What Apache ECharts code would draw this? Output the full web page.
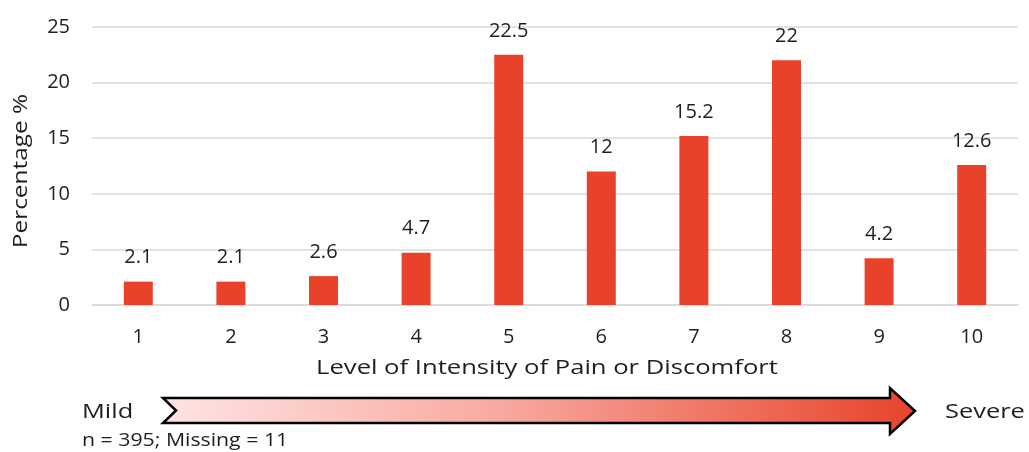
<!DOCTYPE html>
<html>
<head>
<meta charset="utf-8">
<script src="https://cdn.jsdelivr.net/npm/echarts@6/dist/echarts.min.js"></script>
<style>
  html, body { margin: 0; padding: 0; background: #fff; }
  #chart { width: 1029px; height: 452px; }
</style>
</head>
<body>
<div id="chart"></div>
<script>
// Pain / discomfort intensity distribution
const levels = ['1', '2', '3', '4', '5', '6', '7', '8', '9', '10'];
const percentages = [2.1, 2.1, 2.6, 4.7, 22.5, 12, 15.2, 22, 4.2, 12.6];
const yTicks = { min: 0, max: 25, interval: 5 };

const FONT = '"Open Sans", sans-serif';
const TEXT = '#1e1e1e';
const BAR = '#E8432A';
// widen the titles a little so they read like a broad geometric face
const WIDE = 1.22;

const chart = echarts.init(document.getElementById('chart'), null, { renderer: 'canvas' });

function caption(text, x, y, size, align, opts) {
  return Object.assign({
    type: 'text',
    x: x,
    y: y,
    scaleX: WIDE,
    style: {
      text: text,
      font: size + 'px ' + FONT,
      fill: TEXT,
      align: align,
      verticalAlign: 'middle',
      textAlign: align,
      textVerticalAlign: 'middle'
    }
  }, opts || {});
}

chart.setOption({
  animation: false,
  textStyle: { fontFamily: FONT },
  grid: { left: 92, right: 11, top: 27, bottom: 147 },
  xAxis: {
    type: 'category',
    data: levels,
    axisLine: { lineStyle: { color: '#d9d9d9', width: 1.5 } },
    axisTick: { show: false },
    axisLabel: { fontFamily: FONT, fontSize: 20, color: TEXT, margin: 22 }
  },
  yAxis: {
    type: 'value',
    min: yTicks.min,
    max: yTicks.max,
    interval: yTicks.interval,
    axisLine: { show: false },
    axisTick: { show: false },
    splitLine: { lineStyle: { color: '#d9d9d9', width: 1.5 } },
    axisLabel: { fontFamily: FONT, fontSize: 20, color: TEXT, margin: 22 }
  },
  series: [{
    type: 'bar',
    data: percentages,
    barWidth: 29,
    itemStyle: { color: BAR },
    label: {
      show: true,
      position: 'top',
      distance: 14,
      fontFamily: FONT,
      fontSize: 20,
      color: TEXT
    }
  }],
  graphic: [
    caption('Level of Intensity of Pain or Discomfort', 547, 368, 20, 'center', { scaleX: 1.28 }),
    caption('Percentage %', 21, 171, 20, 'center', { rotation: Math.PI / 2 }),
    {
      type: 'polygon',
      shape: {
        points: [[163, 398], [890, 398], [890, 388], [915, 411], [890, 434], [890, 423], [163, 423], [176, 410.5]]
      },
      style: {
        fill: new echarts.graphic.LinearGradient(0, 0, 1, 0, [
          { offset: 0, color: '#FFE4E4' },
          { offset: 0.45, color: '#F8A9A0' },
          { offset: 1, color: '#E8432A' }
        ]),
        stroke: '#000',
        lineWidth: 2.5,
        lineJoin: 'miter'
      }
    },
    caption('Mild', 82, 412, 20, 'left', { scaleX: 1.27 }),
    caption('Severe', 945, 412, 20, 'left', { scaleX: 1.27 }),
    caption('n = 395; Missing = 11', 82, 441, 19, 'left', { scaleX: 1.12 })
  ]
});
</script>
</body>
</html>
